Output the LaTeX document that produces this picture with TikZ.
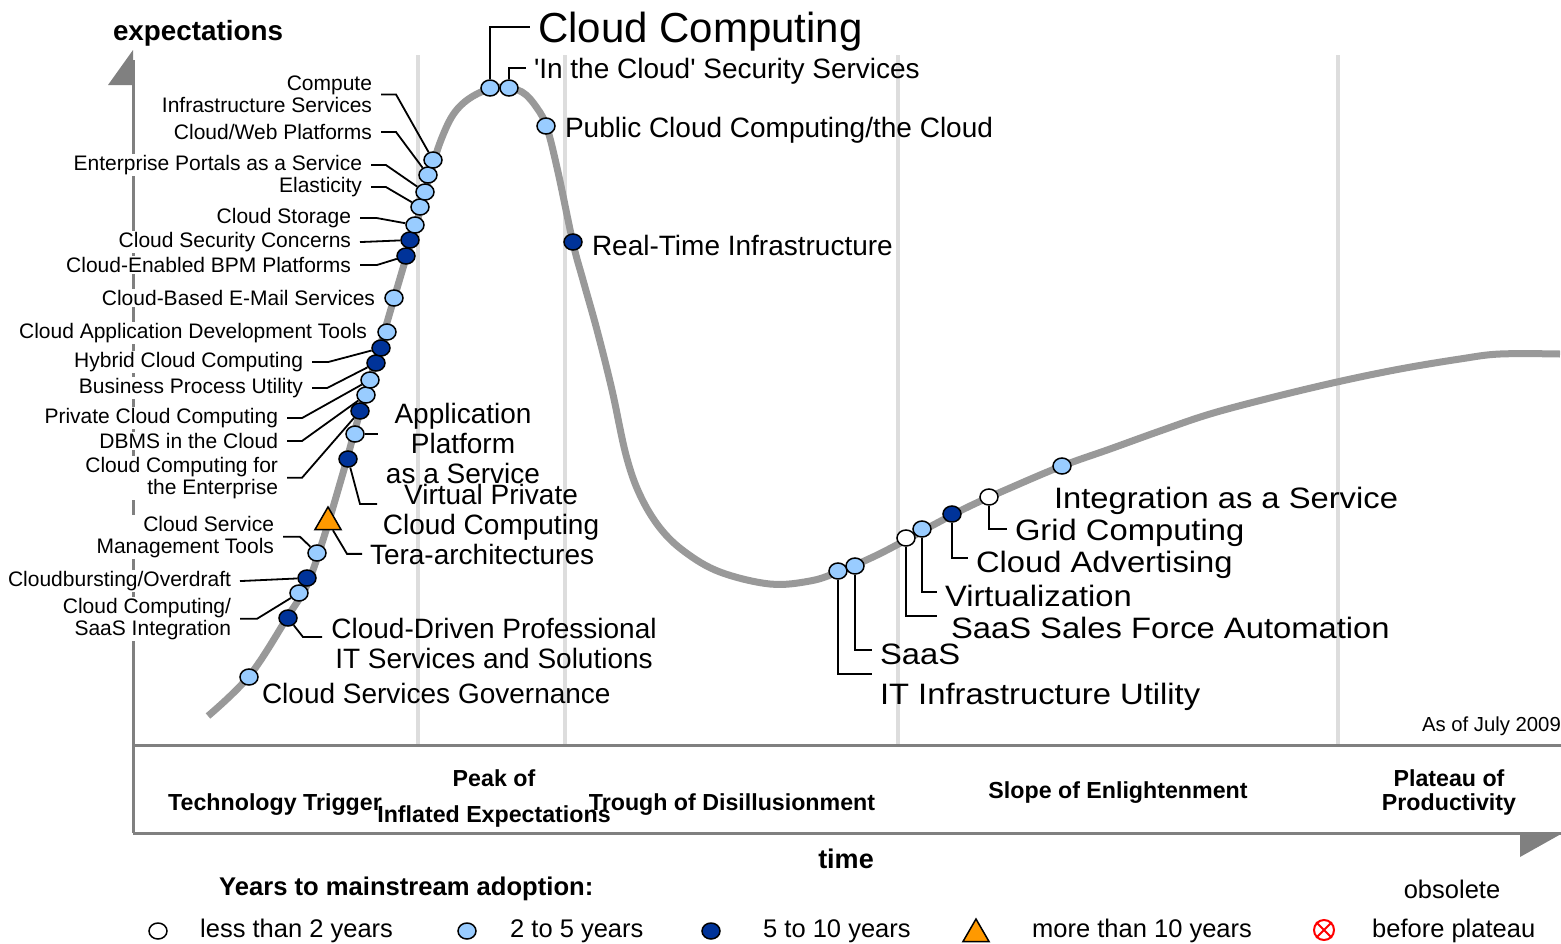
\documentclass[tikz,border=0pt]{standalone}
\usepackage{fontspec}
\setmainfont{Liberation Sans}
\newfontfamily\widesans[FakeStretch=1.11]{Liberation Sans}
\usetikzlibrary{shapes.geometric}

\definecolor{hypegray}{HTML}{999999}
\definecolor{axisgray}{HTML}{808080}
\definecolor{phasegray}{HTML}{DDDDDD}
\definecolor{ltblue}{HTML}{99CCFF}
\definecolor{dkblue}{HTML}{003399}
\definecolor{orng}{HTML}{FF9900}

\tikzset{
  dot/.style={ellipse,draw=black,line width=1.5pt,minimum width=18pt,minimum height=16pt,inner sep=0pt},
  lt/.style={dot,fill=ltblue},
  dk/.style={dot,fill=dkblue},
  wt/.style={dot,fill=white},
  tri/.style={regular polygon,regular polygon sides=3,draw=black,line width=1.5pt,fill=orng,minimum size=30pt,inner sep=0pt},
  small/.style={font=\fontsize{21}{22}\selectfont,fill=white,inner sep=1pt,outer xsep=8pt,outer ysep=0pt,align=right},
  big/.style={font=\fontsize{28}{30}\selectfont,inner sep=1pt,outer xsep=7pt,outer ysep=0pt},
  slope/.style={big,font=\widesans\fontsize{29.5}{30}\selectfont,text depth=0pt,anchor=base west},
  phase/.style={font=\bfseries\fontsize{23.2}{24}\selectfont,inner sep=0pt,align=center},
  leg/.style={font=\fontsize{25.5}{26}\selectfont,inner sep=0pt},
  lead/.style={draw=black,line width=1.8pt},
}

\begin{document}
\begin{tikzpicture}[x=1pt,y=-1pt]
\useasboundingbox (0,0) rectangle (1561,943);

\foreach \px in {418,565,898,1338}
  \draw[phasegray,line width=4pt] (\px,55) -- (\px,745);

\draw[axisgray,line width=3pt] (133,60) -- (133,833);
\draw[axisgray,line width=3pt] (133,745) -- (1561,745);
\draw[axisgray,line width=3pt] (133,833) -- (1561,833);
\fill[axisgray] (108,85) -- (133,50) -- (133,85) -- cycle;
\fill[axisgray] (1520,834) -- (1561,834) -- (1520,857) -- cycle;

\draw[hypegray,line width=7pt] plot[smooth,tension=0.6] coordinates {
  (208,716) (250,675) (290,613) (307,585) (323,540) (343,473) (360,412)
  (376,360) (393,302) (406,258) (418,218) (430,175) (441,140) (455,112)
  (475,95) (500,87) (522,92) (537,108) (547,128) (558,172) (573,243)
  (583,280) (597,330) (612,390) (626,455) (640,495) (660,528) (685,552)
  (720,572) (770,584) (810,581) (838,572) (873,557) (906,540) (937,523)
  (970,506) (1010,488) (1062,466) (1110,449) (1160,431) (1210,414)
  (1270,398) (1337,382) (1400,369) (1460,359) (1500,354) (1560,354)};

% axis and phase texts
\node[font=\bfseries\fontsize{27.8}{28}\selectfont,inner sep=0pt,anchor=base] (expL) at (198,40) {expectations};
\node[font=\bfseries\fontsize{27}{28}\selectfont,inner sep=0pt,anchor=base] (timeL) at (846,868) {time};
\node[font=\fontsize{20.3}{21}\selectfont,inner sep=0pt,anchor=base east] (asofL) at (1561,731) {As of July 2009};
\node[phase,anchor=base] (ttL) at (275,810) {Technology Trigger};
\node[phase,font=\bfseries\fontsize{23.2}{36}\selectfont,anchor=north] (peakL) at (494,769.4) {Peak of\\Inflated Expectations};
\node[phase,anchor=base] (troughL) at (732,810) {Trough of Disillusionment};
\node[phase,anchor=base] (slopeL) at (1118,798) {Slope of Enlightenment};
\node[phase,anchor=north] (plateauL) at (1449,769.4) {Plateau of\\Productivity};

% technologies on the curve
\node[lt] (csg) at (249,677) {};
\node[dk] (cdp) at (288,618) {};
\node[lt] (csi) at (299,593) {};
\node[dk] (cbo) at (307,578) {};
\node[lt] (csm) at (317,553) {};
\node[tri] (tera) at (328,522) {};
\node[dk] (vpc) at (348,459) {};
\node[lt] (paas) at (355,434) {};
\node[dk] (cce) at (360,411) {};
\node[lt] (dbms) at (366,395) {};
\node[lt] (pcc) at (370,380) {};
\node[dk] (bpu) at (376,363) {};
\node[dk] (hcc) at (381,348) {};
\node[lt] (cadt) at (387,332) {};
\node[lt] (mail) at (394,298) {};
\node[dk] (bpm) at (406,256) {};
\node[dk] (csc) at (410,240) {};
\node[lt] (stor) at (415,225) {};
\node[lt] (elas) at (420,207) {};
\node[lt] (epas) at (425,192) {};
\node[lt] (web) at (428,175) {};
\node[lt] (cis) at (433,160) {};
\node[lt] (cc) at (490,88) {};
\node[lt] (itc) at (509,88) {};
\node[lt] (pub) at (546,126) {};
\node[dk] (rti) at (573,242) {};
\node[lt] (itu) at (838,571) {};
\node[lt] (saas) at (855,566) {};
\node[wt] (sfa) at (906,538) {};
\node[lt] (virt) at (922,529) {};
\node[dk] (adv) at (952,514) {};
\node[wt] (grid) at (989,497) {};
\node[lt] (iaas) at (1062,466) {};

% small labels
\node[small,anchor=north east] (cisL) at (381,75) {Compute\\Infrastructure Services};
\node[small,anchor=base east] (webL) at (381,139.5) {Cloud/Web Platforms};
\node[small,anchor=base east] (epasL) at (371,170.5) {Enterprise Portals as a Service};
\node[small,anchor=base east] (elasL) at (371,192.5) {Elasticity};
\node[small,anchor=base east] (storL) at (360,223.5) {Cloud Storage};
\node[small,anchor=base east] (cscL) at (360,247.5) {Cloud Security Concerns};
\node[small,anchor=base east] (bpmL) at (360,272.5) {Cloud-Enabled BPM Platforms};
\node[small,anchor=base east] (mailL) at (384,305.5) {Cloud-Based E-Mail Services};
\node[small,anchor=base east] (cadtL) at (376,338.5) {Cloud Application Development Tools};
\node[small,anchor=base east] (hccL) at (312,367.5) {Hybrid Cloud Computing};
\node[small,anchor=base east] (bpuL) at (312,393.5) {Business Process Utility};
\node[small,anchor=base east] (pccL) at (287,423.5) {Private Cloud Computing};
\node[small,anchor=base east] (dbmsL) at (287,448.5) {DBMS in the Cloud};
\node[small,anchor=north east] (cceL) at (287,456) {Cloud Computing for\\the Enterprise};
\node[small,anchor=north east] (csmL) at (283,515) {Cloud Service\\Management Tools};
\node[small,anchor=base east] (cboL) at (240,586.5) {Cloudbursting/Overdraft};
\node[small,anchor=north east] (csiL) at (240,597) {Cloud Computing/\\SaaS Integration};

\draw[lead] (cisL.east) -- ++(15,0) -- (cis);
\draw[lead] (webL.east) -- ++(15,0) -- (web);
\draw[lead] (epasL.east) -- ++(15,0) -- (epas);
\draw[lead] (elasL.east) -- ++(15,0) -- (elas);
\draw[lead] (storL.east) -- ++(17,0) -- (stor);
\draw[lead] (cscL.east) -- (csc);
\draw[lead] (bpmL.east) -- ++(17,0) -- (bpm);
\draw[lead] (hccL.east) -- ++(16,0) -- (hcc);
\draw[lead] (bpuL.east) -- ++(15,0) -- (bpu);
\draw[lead] (pccL.east) -- ++(15,0) -- (pcc);
\draw[lead] (dbmsL.east) -- ++(15,0) -- (dbms);
\draw[lead] (cceL.east) -- ++(15,0) -- (cce);
\draw[lead] (csmL.east) -- ++(17,0) -- (csm);
\draw[lead] (cboL.east) -- (cbo);
\draw[lead] (csiL.east) -- ++(17,0) -- (csi);

% big labels
\node[big,font=\fontsize{42}{44}\selectfont,text depth=0pt,anchor=base west] (ccL) at (530,42) {Cloud Computing};
\node[big,text depth=0pt,anchor=base west] (itcL) at (526,78) {\textquotesingle In the Cloud\textquotesingle{} Security Services};
\node[big,anchor=base west] (pubL) at (557,137) {Public Cloud Computing/the Cloud};
\node[big,anchor=base west] (rtiL) at (584,255) {Real-Time Infrastructure};
\node[big,align=center,anchor=north] (paasL) at (463,402.6) {Application\\Platform\\as a Service};
\node[big,align=center,anchor=north] (vpcL) at (491,483.6) {Virtual Private\\Cloud Computing};
\node[big,text depth=0pt,anchor=base west] (teraL) at (362,564) {Tera-architectures};
\node[big,align=center,anchor=north] (cdpL) at (494,617.6) {Cloud-Driven Professional\\IT Services and Solutions};
\node[big,anchor=base west] (csgL) at (254,703) {Cloud Services Governance};
\node[slope] (iaasL) at (1046,508) {Integration as a Service};
\node[slope] (gridL) at (1007,540) {Grid Computing};
\node[slope] (advL) at (968,572) {Cloud Advertising};
\node[slope] (virtL) at (937,606) {Virtualization};
\node[slope] (sfaL) at (943,638) {SaaS Sales Force Automation};
\node[slope] (saasL) at (872,664) {SaaS};
\node[slope] (ituL) at (872,704) {IT Infrastructure Utility};

\draw[lead] (cc) |- (ccL.west);
\draw[lead] (itc) |- (itcL.west);
\draw[lead] (paas) -- (paas -| paasL.west);
\draw[lead] (vpc) -- ++(12,45) -- ++(17,0);
\draw[lead] (tera) -- ([xshift=-15pt]teraL.west) -- (teraL.west);
\draw[lead] (cdp) -- ++(15,19) -- ++(19,0);
\draw[lead] (grid) |- (gridL.west);
\draw[lead] (adv) |- ([yshift=3pt]advL.west);
\draw[lead] (virt) |- ([yshift=3pt]virtL.west);
\draw[lead] (sfa) |- ([shift={(-6,-11)}]sfaL.west);
\draw[lead] (saas) |- ([yshift=4pt]saasL.west);
\draw[lead] (itu) |- ([yshift=19pt]ituL.west);

% legend
\node[leg,font=\bfseries\fontsize{25.6}{26}\selectfont,anchor=base west] (legL) at (219,895) {Years to mainstream adoption:};
\node[leg,anchor=base] (obsL) at (1452,898) {obsolete};
\node[wt] (k1) at (158,931) {};
\node[leg,anchor=base west] (k1L) at (200,937) {less than 2 years};
\node[lt] (k2) at (467,931) {};
\node[leg,anchor=base west] (k2L) at (510,937) {2 to 5 years};
\node[dk] (k3) at (711,931) {};
\node[leg,anchor=base west] (k3L) at (763,937) {5 to 10 years};
\node[tri] (k4) at (976,934) {};
\node[leg,anchor=base west] (k4L) at (1032,937) {more than 10 years};
\node[circle,draw=red,line width=2pt,minimum size=20pt,inner sep=0pt] (k5) at (1324,930) {};
\draw[red,line width=2pt] (k5.45) -- (k5.225) (k5.135) -- (k5.315);
\node[leg,anchor=base west] (k5L) at (1372,937) {before plateau};

\end{tikzpicture}
\end{document}
